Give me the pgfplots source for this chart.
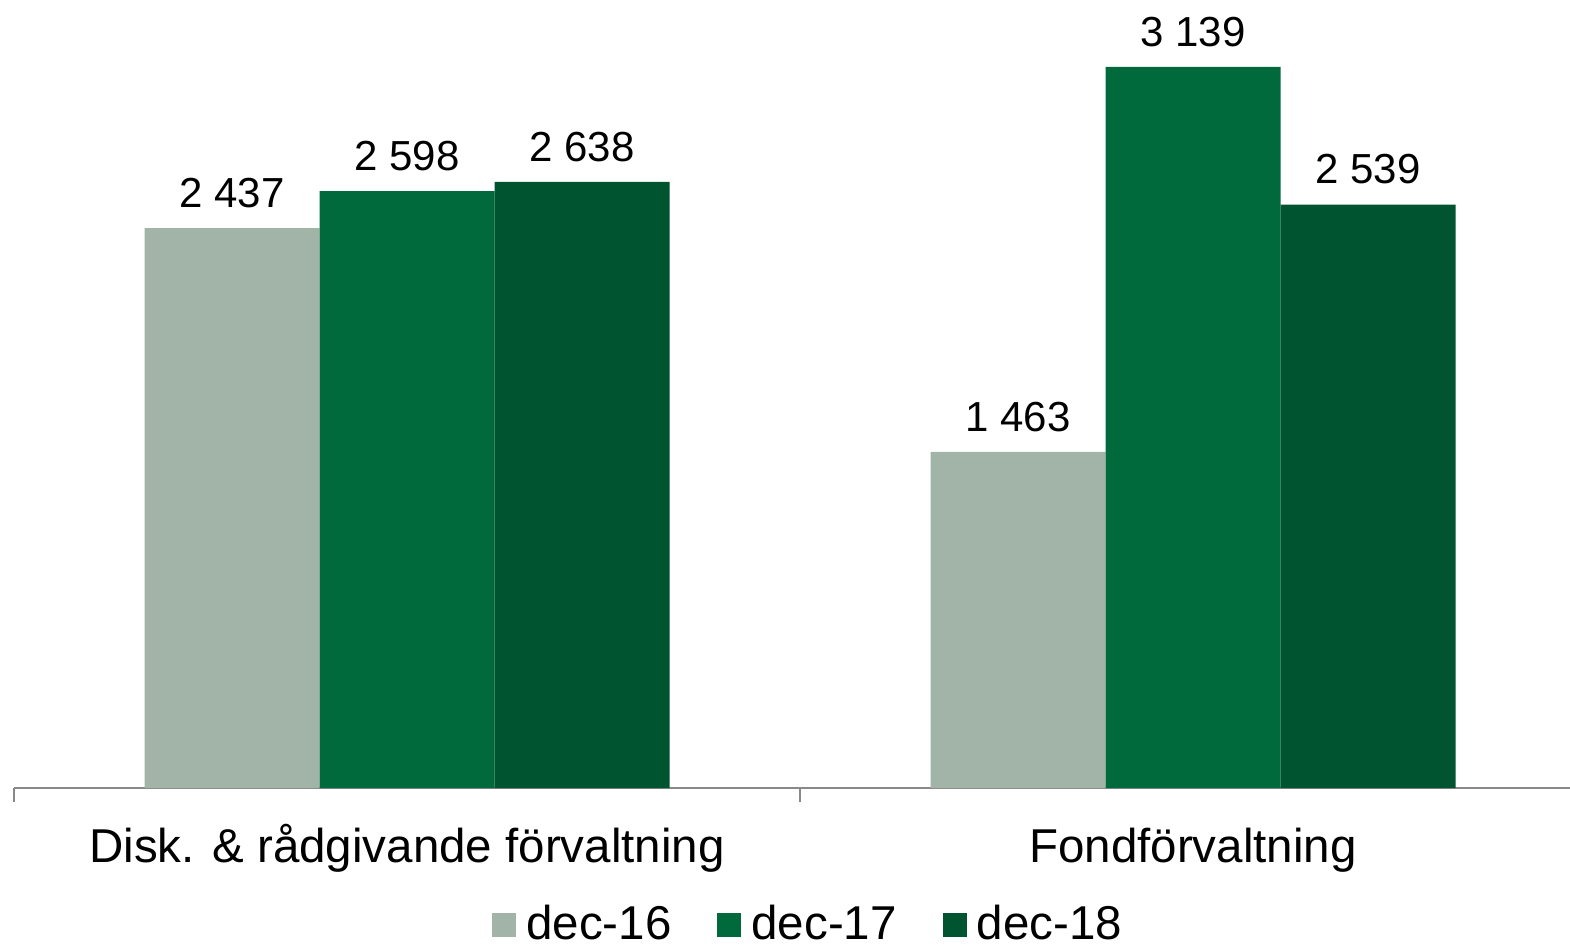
\documentclass[border=0pt]{standalone}
\usepackage{fontspec}
\setmainfont{Liberation Sans}
\usepackage{pgfplots}
\pgfplotsset{compat=1.18}
\definecolor{c16}{RGB}{162,180,168}
\definecolor{c17}{RGB}{0,106,60}
\definecolor{c18}{RGB}{0,85,48}
\definecolor{axgray}{RGB}{137,137,137}
\pgfplotsset{sqlegend/.style={legend image code/.code={\fill[##1] (0pt,1.5pt) rectangle (12pt,13.5pt);}}}
\begin{document}
\begin{tikzpicture}
\begin{axis}[
  scale only axis, width=786pt, height=394pt,
  at={(0,0)}, anchor=south west,
  xmin=-0.5, xmax=1.5, ymin=0, ymax=3430,
  ybar=0pt, bar width=87.5pt,
  sqlegend,
  axis x line*=bottom, axis y line=none,
  x axis line style={draw=axgray, line width=1pt},
  xtick={0,1},
  xticklabels={Disk. \& rådgivande förvaltning, Fondförvaltning},
  major tick length=0pt,
  major x tick style={draw=none},
  minor xtick={-0.5,0.5,1.5},
  minor x tick style={draw=axgray, line width=1pt},
  minor tick length=7pt,
  tick align=outside,
  xticklabel style={font=\fontsize{23.75}{28}\selectfont, anchor=base, yshift=-37pt},
  nodes near coords,
  nodes near coords style={font=\fontsize{21}{25}\selectfont, text=black, inner sep=0pt, anchor=south, yshift=10pt},
  /pgf/number format/.cd, 1000 sep={\ }, assume math mode=true, /pgfplots/.cd,
  clip=false,
  legend columns=3,
  legend style={draw=none, fill=none, inner sep=0pt,
    font=\fontsize{23.75}{28}\selectfont,
    at={(0.5045,0)}, anchor=north, yshift=-58.5pt,
    nodes={inner sep=0pt, anchor=base west},
    /tikz/column sep=5pt,
    /tikz/every even column/.append style={column sep=23pt}},
]
\addplot[fill=c16, draw=none] coordinates {(0,2437) (1,1463)};
\addplot[fill=c17, draw=none] coordinates {(0,2598) (1,3139)};
\addplot[fill=c18, draw=none] coordinates {(0,2638) (1,2539)};
\legend{dec-16, dec-17, dec-18}
\end{axis}
\pgfresetboundingbox
\path[use as bounding box] (-7pt,-78pt) rectangle (778pt,394pt);
\end{tikzpicture}
\end{document}
